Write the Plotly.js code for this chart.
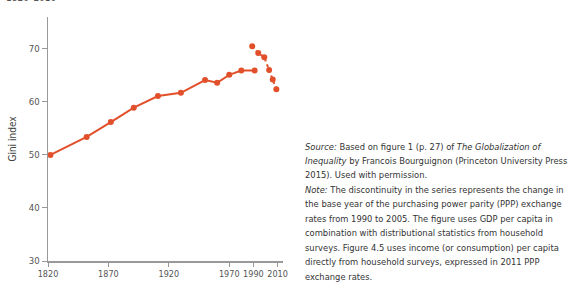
<!DOCTYPE html>
<html>
<head>
<meta charset="utf-8">
<script src="https://cdn.plot.ly/plotly-3.0.1.min.js"></script>
<style>html,body{margin:0;padding:0;background:#fff;}#chart{width:588px;height:285px;}</style>
</head>
<body>
<div id="chart"></div>
<script>
// Series 1: 1990 PPP
const years1990 = [1822, 1852, 1872, 1891, 1911, 1930, 1950, 1960, 1970, 1980, 1991];
const gini1990 = [50.0, 53.4, 56.2, 58.9, 61.1, 61.7, 64.1, 63.6, 65.1, 65.9, 65.9];
// Series 2: 2005 PPP
const years2005 = [1989, 1994, 1999, 2003, 2006, 2009];
const gini2005 = [70.5, 69.2, 68.4, 66.0, 64.2, 62.4];
const xTicks = [1820, 1870, 1920, 1970, 1990, 2010];
const yTicks = [30, 40, 50, 60, 70];
const noteLines = [
  "<i>Source:</i> Based on figure 1 (p. 27) of <i>The Globalization of</i>",
  "<i>Inequality</i> by Francois Bourguignon (Princeton University Press",
  "2015). Used with permission.",
  "<i>Note:</i> The discontinuity in the series represents the change in",
  "the base year of the purchasing power parity (PPP) exchange",
  "rates from 1990 to 2005. The figure uses GDP per capita in",
  "combination with distributional statistics from household",
  "surveys. Figure 4.5 uses income (or consumption) per capita",
  "directly from household surveys, expressed in 2011 PPP",
  "exchange rates."
];

const FONT = '"DejaVu Sans Condensed", "Liberation Sans Narrow", "Liberation Sans", Arial, sans-serif';
const RED = '#e2502b';
const W = 588, H = 285;
const L = 48, R = 305, T = 17, B = 24;
const PH = H - T - B, PW = W - L - R;

const traces = [
  {x: years1990, y: gini1990, mode: 'lines+markers', type: 'scatter',
   line: {color: RED, width: 2}, marker: {color: RED, size: 6}, hoverinfo: 'skip'},
  {x: years2005, y: gini2005, mode: 'lines+markers', type: 'scatter',
   line: {color: RED, width: 2, dash: 'dot'}, marker: {color: RED, size: 6}, hoverinfo: 'skip'}
];

const annotations = noteLines.map((t, i) => ({
  text: t, xref: 'paper', yref: 'paper', showarrow: false,
  x: (303 - L) / PW, xanchor: 'left',
  y: 1 - ((146 + i * 14.45) - T) / PH, yanchor: 'middle',
  font: {family: FONT, size: 9.3, color: '#333'}
}));
annotations.push({
  text: '1820–2010', xref: 'paper', yref: 'paper', showarrow: false,
  x: (4 - L) / PW, xanchor: 'left',
  y: 1 + (T - 5) / PH, yanchor: 'bottom',
  font: {family: FONT, size: 10, color: '#555'}
});

const layout = {
  width: W, height: H,
  margin: {l: L, r: R, t: T, b: B, pad: 0},
  paper_bgcolor: '#fff', plot_bgcolor: '#fff',
  showlegend: false,
  xaxis: {
    range: [1820, 2014.5], tickvals: xTicks, ticktext: xTicks.map(String),
    tickangle: 0, automargin: false,
    showgrid: false, zeroline: false, showline: true, linecolor: '#999', linewidth: 1.5,
    ticks: 'outside', ticklen: 4, tickcolor: '#999', tickwidth: 1,
    tickfont: {family: FONT, size: 9, color: '#555'}
  },
  yaxis: {
    range: [30, 76], tickvals: yTicks, ticktext: yTicks.map(String),
    showgrid: false, zeroline: false, showline: true, linecolor: '#999', linewidth: 1.5,
    ticks: 'outside', ticklen: 5, tickcolor: '#999', tickwidth: 1,
    tickfont: {family: FONT, size: 9.5, color: '#555'},
    title: {text: 'Gini index', font: {family: FONT, size: 10, color: '#444'}, standoff: 10}
  },
  annotations: annotations
};

Plotly.newPlot('chart', traces, layout, {displayModeBar: false, staticPlot: true});
</script>
</body>
</html>
